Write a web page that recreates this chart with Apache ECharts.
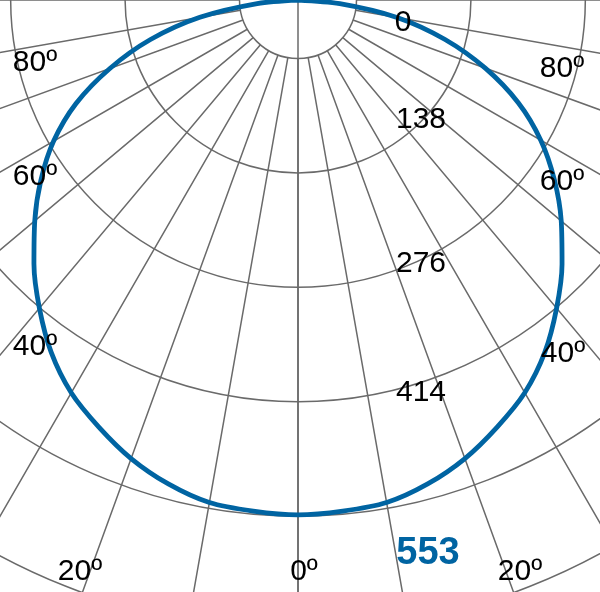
<!DOCTYPE html>
<html>
<head>
<meta charset="utf-8">
<title>配光曲线</title>
<script src="https://cdn.jsdelivr.net/npm/echarts@6/dist/echarts.min.js"></script>
<style>
  html, body { margin: 0; padding: 0; background: #fff; }
  #main { width: 600px; height: 592px; }
</style>
</head>
<body>
<div id="main"></div>
<script type="text/javascript">
// 角度（度），左侧为负
var angles = [-90, -85, -80, -75, -70, -65, -60, -55, -50, -45, -40, -35, -30, -25, -20, -15, -10, -5,
              0, 5, 10, 15, 20, 25, 30, 35, 40, 45, 50, 55, 60, 65, 70, 75, 80, 85, 90];
// 光强 cd
var intensity = [0, 44, 107, 164, 215, 263, 303, 337, 369, 401, 432, 462, 487, 506, 524, 538, 548, 551,
                 553, 551, 548, 538, 524, 506, 487, 462, 432, 401, 369, 336, 301, 261, 214, 163, 108, 45, 0];
// 网格刻度
var ringTicks = ['0', '138', '276', '414'];
var maxLabel = '553';
var angleLabels = ['80º', '60º', '40º', '20º', '0º', '20º', '40º', '60º', '80º'];

var gridColor = '#6a6a6a';
var curveColor = '#0064a2';
var font = '"Liberation Sans", Arial, sans-serif';

// 标签位置
var angleLabelPos = [[35, 63], [35, 177], [35, 347], [80, 572], [304, 572],
                     [520, 572], [563, 354], [562, 182], [562, 69]];
var ringLabelPos = [[403, 23], [421, 120], [421, 264], [421, 393]];
var maxLabelPos = [428, 554];

var curveData = [];
for (var i = 0; i < angles.length; i++) {
    var a = angles[i] < 0 ? angles[i] + 360 : angles[i];
    curveData.push([intensity[i], a]);
}

var graphics = [];
for (var j = 0; j < angleLabels.length; j++) {
    graphics.push({
        type: 'text', x: angleLabelPos[j][0], y: angleLabelPos[j][1], z: 100,
        style: { text: angleLabels[j], fill: '#000', font: '30px ' + font,
                 textAlign: 'center', textVerticalAlign: 'middle' }
    });
}
for (var k = 0; k < ringTicks.length; k++) {
    graphics.push({
        type: 'text', x: ringLabelPos[k][0], y: ringLabelPos[k][1], z: 100,
        style: { text: ringTicks[k], fill: '#000', font: '30px ' + font,
                 textAlign: 'center', textVerticalAlign: 'middle' }
    });
}
graphics.push({
    type: 'text', x: maxLabelPos[0], y: maxLabelPos[1], z: 100,
    style: { text: maxLabel, fill: curveColor, font: 'bold 38px ' + font,
             textAlign: 'center', textVerticalAlign: 'middle' }
});

var myChart = echarts.init(document.getElementById('main'), null, { renderer: 'canvas' });

var option = {
    backgroundColor: '#fff',
    animation: false,
    polar: [
        { center: [298, 0], radius: [58.5, 745] },   // 网格
        { center: [298, 0], radius: [0, 650] }       // 曲线
    ],
    angleAxis: [{
        polarIndex: 0,
        type: 'value', min: 0, max: 360, interval: 10, startAngle: 270,
        axisLine: { show: false }, axisTick: { show: false }, axisLabel: { show: false },
        splitLine: { show: true, lineStyle: { color: gridColor, width: 1.5 } }
    }, {
        polarIndex: 1,
        type: 'value', min: 0, max: 360, startAngle: 270, clockwise: false,
        axisLine: { show: false }, axisTick: { show: false }, axisLabel: { show: false },
        splitLine: { show: false }
    }],
    radiusAxis: [{
        polarIndex: 0,
        type: 'value', min: 0, max: 828, interval: 138,
        axisLine: { show: false }, axisTick: { show: false }, axisLabel: { show: false },
        splitLine: { show: true, lineStyle: { color: gridColor, width: 1.5 } }
    }, {
        polarIndex: 1,
        type: 'value', min: 0, max: 698,
        axisLine: { show: true, lineStyle: { color: gridColor, width: 1.5 } },
        axisTick: { show: false }, axisLabel: { show: false },
        splitLine: { show: false }
    }],
    series: [{
        type: 'line',
        coordinateSystem: 'polar',
        polarIndex: 1,
        data: curveData,
        showSymbol: false,
        smooth: 0.3,
        silent: true,
        lineStyle: { color: curveColor, width: 4.8 }
    }],
    graphic: graphics
};

myChart.setOption(option);
</script>
</body>
</html>
